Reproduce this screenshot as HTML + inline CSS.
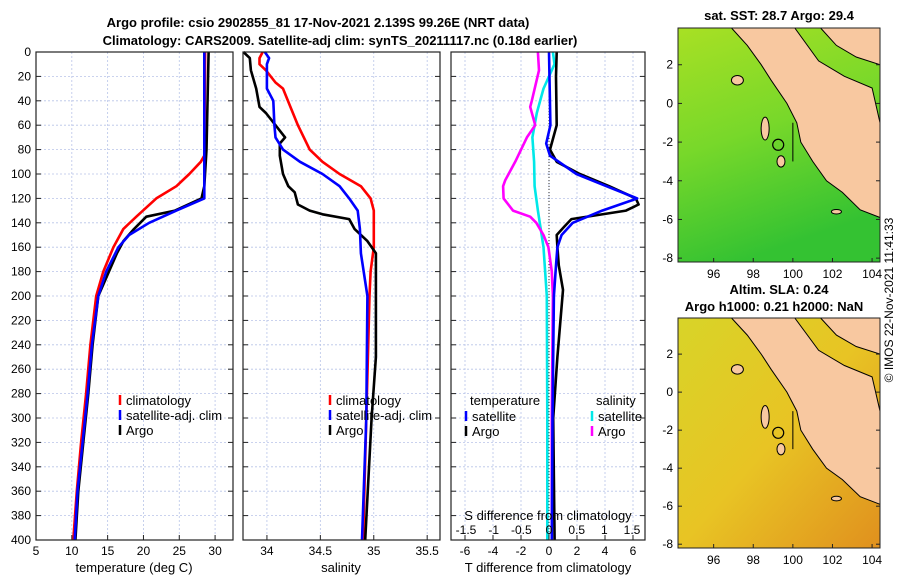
<!DOCTYPE html>
<html><head><meta charset="utf-8"><style>
body{margin:0;background:#fff;}
svg{font-family:"Liberation Sans",sans-serif;}
</style></head><body>
<svg id="c" width="900" height="580" viewBox="0 0 900 580">
<defs>
<linearGradient id="sstg" x1="0" y1="0" x2="0.3" y2="1">
<stop offset="0" stop-color="#a8e024"/><stop offset="0.5" stop-color="#78d82a"/><stop offset="1" stop-color="#34c232"/></linearGradient>
<linearGradient id="slag" x1="0" y1="0" x2="1" y2="1">
<stop offset="0" stop-color="#d8d428"/><stop offset="0.5" stop-color="#e8c424"/><stop offset="1" stop-color="#e0901e"/></linearGradient>
</defs>
<text x="318" y="27" text-anchor="middle" font-size="13" font-weight="bold">Argo profile: csio 2902855_81 17-Nov-2021 2.139S 99.26E (NRT data)</text>
<text x="340" y="45" text-anchor="middle" font-size="13" font-weight="bold">Climatology: CARS2009. Satellite-adj clim: synTS_20211117.nc (0.18d earlier)</text>
<g id="g"></g>
<text x="893" y="300" font-size="12" text-anchor="middle" transform="rotate(-90 893 300)">© IMOS 22-Nov-2021 11:41:33</text>
</svg>
<script>
// ---- data ----
const depthClim=[0,85,90,100,110,120,135,145,160,180,200,240,280,320,360,400];
const tClim=[28.6,28.5,28.0,26.4,24.6,21.8,19,17.2,15.8,14.4,13.4,12.6,12.0,11.3,10.7,10.2];
const depthSat=[0,120,130,140,150,160,180,200,240,280,320,360,400];
const tSat=[28.5,28.5,24.6,20.8,18,16.5,14.8,13.7,12.8,12.2,11.5,10.8,10.4];
const depthArgo=[0,80,110,120,130,135,145,155,165,200,240,280,320,360,400];
const tArgo=[29.1,28.8,28.5,28.1,24.4,20.4,18.7,17.2,16.3,13.7,12.9,12.3,11.6,10.9,10.5];
const sDepthClim=[0,5,10,15,25,30,45,60,80,90,100,110,120,130,160,180,200,300,400];
const sClim=[33.96,33.93,33.93,33.99,34.08,34.15,34.22,34.29,34.40,34.52,34.68,34.88,34.97,35.0,35.0,34.97,34.96,34.93,34.9];
const sDepthSat=[0,5,10,30,40,60,70,80,90,100,110,120,130,145,165,200,300,400];
const sSat=[33.98,34.02,34.0,34.0,34.06,34.07,34.08,34.15,34.31,34.52,34.68,34.77,34.85,34.87,34.88,34.94,34.93,34.89];
const sDepthArgo=[0,5,15,30,45,50,60,70,75,85,100,110,115,125,130,133,137,145,155,165,200,250,300,400];
const sArgo=[33.78,33.84,33.85,33.90,33.93,33.99,34.08,34.17,34.12,34.12,34.15,34.2,34.26,34.29,34.40,34.52,34.77,34.82,34.94,35.02,35.02,35.02,34.98,34.92];
const dDepthArgoT=[0,20,60,80,90,100,110,120,125,130,137,143,150,160,175,195,250,300,400];
const dArgoT=[0.55,0.5,0.55,0.07,0.55,2.2,4.3,6.2,6.4,5.5,1.6,1.1,0.55,0.6,0.7,1.0,0.6,0.3,0.4];
const dDepthSatT=[0,60,75,85,100,110,120,130,140,150,160,175,200,300,400];
const dSatT=[0.0,0.1,-0.2,0.07,1.96,4.1,6.3,3.8,1.7,0.9,0.6,0.5,0.35,0.25,0.2];
const dDepthArgoS=[0,15,40,45,60,70,90,105,110,120,130,135,140,150,160,180,200,300,400];
const dArgoS=[-0.2,-0.18,-0.31,-0.34,-0.25,-0.4,-0.61,-0.79,-0.83,-0.82,-0.65,-0.34,-0.23,-0.1,-0.01,0.05,0.07,0.05,0.05];
const dDepthSatS=[0,10,30,50,70,90,110,130,160,200,300,400];
const dSatS=[0.07,0.1,-0.1,-0.22,-0.3,-0.27,-0.26,-0.2,-0.1,-0.04,-0.03,-0.03];
const depthTicks=[0,20,40,60,80,100,120,140,160,180,200,220,240,260,280,300,320,340,360,380,400];
const tTicks=[5,10,15,20,25,30];
const sTicks=[34,34.5,35,35.5];
const sTickLabels=["34","34.5","35","35.5"];
const dTTicks=[-6,-4,-2,0,2,4,6];
const dSTicks=[-1.5,-1,-0.5,0,0.5,1,1.5];
const dSTickLabels=["-1.5","-1","-0.5","0","0.5","1","1.5"];
const lonTicks=[96,98,100,102,104];
const latTicks=[2,0,-2,-4,-6,-8];
// ---- helpers ----
const NS="http://www.w3.org/2000/svg";const G=document.getElementById('g');
function mk(t,a,p){const e=document.createElementNS(NS,t);for(const k in a)e.setAttribute(k,a[k]);(p||G).appendChild(e);return e;}
const Y0=52,Y1=540;const yD=d=>Y0+d/400*(Y1-Y0);
function lin(d0,d1,r0,r1){return v=>r0+(v-d0)/(d1-d0)*(r1-r0);}
function panel(name,x0,x1,xs,xt){
 const fr=mk('rect',{x:x0,y:Y0,width:x1-x0,height:Y1-Y0,fill:'#fff',stroke:'none'});
 
 xt.forEach(v=>{const x=xs(v);mk('line',{x1:x,x2:x,y1:Y0,y2:Y1,stroke:'#b8c4e8','stroke-dasharray':'2,2','stroke-width':0.8});});
 depthTicks.forEach(d=>{mk('line',{x1:x0,x2:x1,y1:yD(d),y2:yD(d),stroke:'#b8c4e8','stroke-dasharray':'2,2','stroke-width':0.8});
  mk('line',{x1:x0,x2:x0+5,y1:yD(d),y2:yD(d),stroke:'#222'});mk('line',{x1:x1-5,x2:x1,y1:yD(d),y2:yD(d),stroke:'#222'});});
 return fr;
}
function border(x0,x1){mk('rect',{x:x0,y:Y0,width:x1-x0,height:Y1-Y0,fill:'none',stroke:'#222','stroke-width':1.2});}
function line(xs,vals,deps,color,name,w){const pts=vals.map((v,i)=>xs(v).toFixed(1)+','+yD(deps[i]).toFixed(1)).join(' ');
 const p=mk('polyline',{points:pts,fill:'none',stroke:color,'stroke-width':w||2.6,'stroke-linejoin':'round'});
 }
function txt(x,y,s,name,opt){const t=mk('text',Object.assign({x:x,y:y,'font-size':13},opt||{}));t.textContent=s;return t;}
function legend(x,y,items,pref){items.forEach((it,i)=>{const yy=y+i*15;
 mk('line',{x1:x,x2:x,y1:yy-10,y2:yy,stroke:it[1],'stroke-width':2.5});txt(x+6,yy,it[0],pref+'-legend-'+it[2]);});}
// panel 1
const xT=lin(5,32.5,36,233);
panel('temperature',36,233,xT,tTicks);
depthTicks.forEach(d=>txt(31,yD(d)+4,String(d),'depth-tick-label',{'text-anchor':'end','font-size':12}));
line(xT,tClim,depthClim,'#f00','temp-climatology-line');
line(xT,tArgo,depthArgo,'#000','temp-argo-line');
line(xT,tSat,depthSat,'#00f','temp-satellite-line');
tTicks.forEach(v=>{const x=xT(v);mk('line',{x1:x,x2:x,y1:Y1,y2:Y1-5,stroke:'#222'});txt(x,Y1+15,String(v),'temp-x-tick-label',{'text-anchor':'middle','font-size':12});});
border(36,233);
txt(134,Y1+32,'temperature (deg C)','temperature-axis-title',{'text-anchor':'middle'});
legend(120,405,[['climatology','#f00','clim'],['satellite-adj. clim','#00f','sat'],['Argo','#000','argo']],'temp');
// panel 2
const xS=lin(33.776,35.62,243,440);
panel('salinity',243,440,xS,sTicks);
line(xS,sClim,sDepthClim,'#f00','sal-climatology-line');
line(xS,sArgo,sDepthArgo,'#000','sal-argo-line');
line(xS,sSat,sDepthSat,'#00f','sal-satellite-line');
sTicks.forEach((v,i)=>{const x=xS(v);mk('line',{x1:x,x2:x,y1:Y1,y2:Y1-5,stroke:'#222'});txt(x,Y1+15,sTickLabels[i],'sal-x-tick-label',{'text-anchor':'middle','font-size':12});});
border(243,440);
txt(341,Y1+32,'salinity','salinity-axis-title',{'text-anchor':'middle'});
legend(330,405,[['climatology','#f00','clim'],['satellite-adj. clim','#00f','sat'],['Argo','#000','argo']],'sal');
// panel 3
const xDT=lin(0,6,549,633);const xDS=lin(0,1.5,549,632);
panel('difference',451,645,xDT,dTTicks);
mk('line',{x1:xDT(0),x2:xDT(0),y1:Y0+5,y2:Y1,stroke:'#333','stroke-dasharray':'1,2'});
line(xDS,dSatS,dDepthSatS,'#00e8e8','diff-sal-satellite-line');
line(xDS,dArgoS,dDepthArgoS,'#f0f','diff-sal-argo-line');
line(xDT,dArgoT,dDepthArgoT,'#000','diff-temp-argo-line');
line(xDT,dSatT,dDepthSatT,'#00f','diff-temp-satellite-line');
dTTicks.forEach(v=>{const x=xDT(v);mk('line',{x1:x,x2:x,y1:Y1,y2:Y1-5,stroke:'#222'});txt(x,Y1+15,String(v),'diff-t-tick-label',{'text-anchor':'middle','font-size':12});});
dSTicks.forEach((v,i)=>{const x=xDS(v);txt(x,Y1-6,dSTickLabels[i],'diff-s-tick-label',{'text-anchor':'middle','font-size':12});});
border(451,645);
txt(548,Y1-20,'S difference from climatology','s-diff-axis-title',{'text-anchor':'middle'});
txt(548,Y1+32,'T difference from climatology','t-diff-axis-title',{'text-anchor':'middle'});
txt(470,405,'temperature','diff-legend-temp-title');txt(596,405,'salinity','diff-legend-sal-title');
legend(466,421,[['satellite','#00f','tsat'],['Argo','#000','targo']],'diff');
legend(592,421,[['satellite','#00e8e8','ssat'],['Argo','#f0f','sargo']],'diff-s');
// maps
function map(name,x0,y0,x1,y1,fill,title1,title2){
 const lx=lin(94.2,104.4,x0,x1),ly=lin(3.9,-8.2,y0,y1);
 const P=a=>a.map(p=>lx(p[0]).toFixed(1)+','+ly(p[1]).toFixed(1)).join(' ');
 const r=mk('rect',{x:x0,y:y0,width:x1-x0,height:y1-y0,fill:fill});
 const land=[[96.9,3.9],[97.7,3],[98.4,2],[98.9,1.2],[99.7,0],[100.2,-1],[100.4,-2],[101,-3],[101.7,-4],[102.5,-4.6],[103.4,-5.5],[104.4,-5.9],[104.4,-1],[104,0.8],[102.6,1.4],[101.3,2.2],[100.1,3.9]];
 const l=mk('polygon',{points:P(land),fill:'#f8c8a0',stroke:'#000','stroke-width':1});
 const mal=[[101.4,3.9],[102.2,3.0],[103.2,2.4],[104.4,2.0],[104.4,3.9]];
 const m2=mk('polygon',{points:P(mal),fill:'#f8c8a0',stroke:'#000','stroke-width':1});
 
 [[98.6,-1.3,0.2,0.6],[99.4,-3.0,0.2,0.3],[97.2,1.2,0.3,0.25],[102.2,-5.6,0.25,0.12]].forEach(e=>{
  const el=mk('ellipse',{cx:lx(e[0]),cy:ly(e[1]),rx:e[2]*20,ry:e[3]*19,fill:'#f8c8a0',stroke:'#000'});});
 mk('line',{x1:lx(100),x2:lx(100),y1:ly(-1),y2:ly(-3),stroke:'#000'});
 const c=mk('circle',{cx:lx(99.26),cy:ly(-2.139),r:5.5,fill:'none',stroke:'#000','stroke-width':1.2});
 mk('rect',{x:x0,y:y0,width:x1-x0,height:y1-y0,fill:'none',stroke:'#222'});
 lonTicks.forEach(v=>{mk('line',{x1:lx(v),x2:lx(v),y1:y1,y2:y1-4,stroke:'#222'});txt(lx(v),y1+16,String(v),name+'-lon-tick',{'text-anchor':'middle','font-size':12});});
 latTicks.forEach(v=>{mk('line',{x1:x0,x2:x0+4,y1:ly(v),y2:ly(v),stroke:'#222'});mk('line',{x1:x1,x2:x1-4,y1:ly(v),y2:ly(v),stroke:'#222'});txt(x0-5,ly(v)+4,String(v),name+'-lat-tick',{'text-anchor':'end','font-size':12});});
 txt((x0+x1)/2,title2?y0-24:y0-8,title1,name+'-title',{'text-anchor':'middle','font-weight':'bold'});
 if(title2)txt((x0+x1)/2-5,y0-7,title2,name+'-subtitle',{'text-anchor':'middle','font-weight':'bold'});
}
map('sst-map',678,28,880,262,'url(#sstg)','sat. SST: 28.7 Argo: 29.4');
map('sla-map',678,318,880,548,'url(#slag)','Altim. SLA: 0.24','Argo h1000: 0.21 h2000: NaN');
</script>
</body></html>
